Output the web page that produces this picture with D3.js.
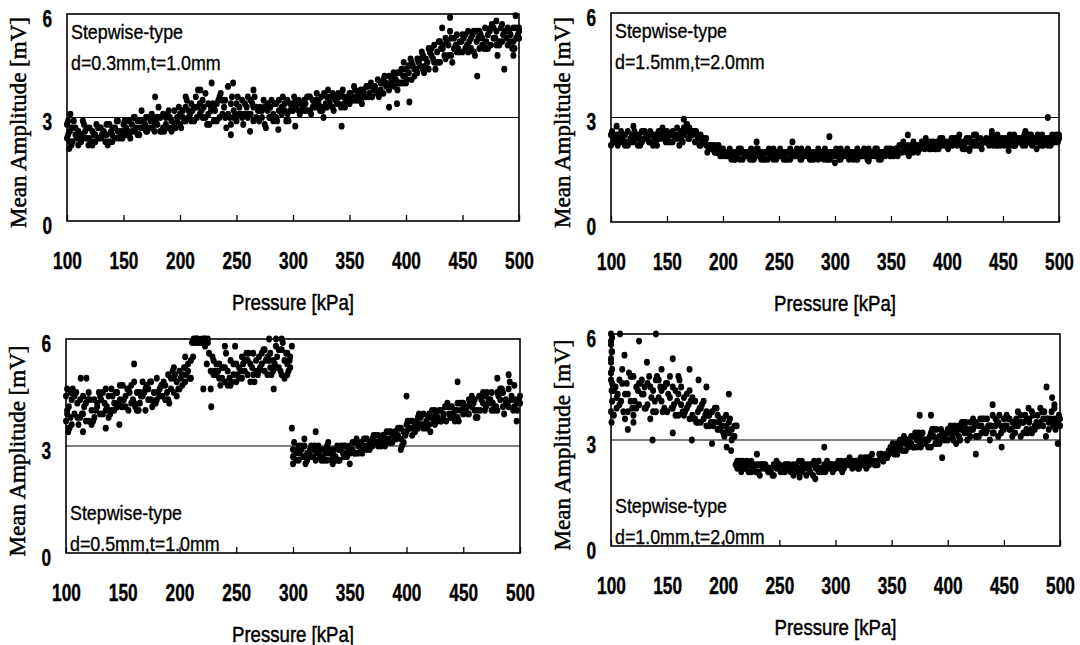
<!DOCTYPE html>
<html>
<head>
<meta charset="utf-8">
<script src="https://cdn.jsdelivr.net/npm/d3@7"></script>
<style>
  body { margin: 0; background: #fff; }
</style>
</head>
<body>
<div id="chart"></div>
<script>
// pressure steps [kPa] for the four interleaved sweeps
const pressureA = [100,105,110,115,120,125,130,135,140,145,150,155,160,165,170,175,180,185,190,195,
  200,205,210,215,220,225,230,235,240,245,250,255,260,265,270,275,280,285,290,295,
  300,305,310,315,320,325,330,335,340,345,350,355,360,365,370,375,380,385,390,395,
  400,405,410,415,420,425,430,435,440,445,450,455,460,465,470,475,480,485,490,495,500];
const pressureB = [102.5,107.5,112.5,117.5,122.5,127.5,132.5,137.5,142.5,147.5,152.5,157.5,162.5,167.5,172.5,177.5,182.5,187.5,192.5,197.5,
  202.5,207.5,212.5,217.5,222.5,227.5,232.5,237.5,242.5,247.5,252.5,257.5,262.5,267.5,272.5,277.5,282.5,287.5,292.5,297.5,
  302.5,307.5,312.5,317.5,322.5,327.5,332.5,337.5,342.5,347.5,352.5,357.5,362.5,367.5,372.5,377.5,382.5,387.5,392.5,397.5,
  402.5,407.5,412.5,417.5,422.5,427.5,432.5,437.5,442.5,447.5,452.5,457.5,462.5,467.5,472.5,477.5,482.5,487.5,492.5,497.5];
const pressureC = [101,106,111,116,121,126,131,136,141,146,151,156,161,166,171,176,181,186,191,196,
  201,206,211,216,221,226,231,236,241,246,251,256,261,266,271,276,281,286,291,296,
  301,306,311,316,321,326,331,336,341,346,351,356,361,366,371,376,381,386,391,396,
  401,406,411,416,421,426,431,436,441,446,451,456,461,466,471,476,481,486,491,496];
const pressureD = [104,109,114,119,124,129,134,139,144,149,154,159,164,169,174,179,184,189,194,199,
  204,209,214,219,224,229,234,239,244,249,254,259,264,269,274,279,284,289,294,299,
  304,309,314,319,324,329,334,339,344,349,354,359,364,369,374,379,384,389,394,399,
  404,409,414,419,424,429,434,439,444,449,454,459,464,469,474,479,484,489,494,499];

const xTicks = [100,150,200,250,300,350,400,450,500];
const yTicks = [0,3,6];

// d=0.3mm, t=1.0mm  (mean amplitude, mV)
const p1A1 = [2.8,2.3,2.6,2.4,2.7,2.5,2.4,2.8,2.5,2.9, 2.6,2.5,3.0,2.7,2.6,3.1,2.8,2.7,3.2,2.8,
  3.1,2.9,3.4,3.0,3.5,3.1,2.9,3.6,3.0,3.4, 2.9,3.5,3.0,3.3,2.9,3.3,3.0,3.4,3.1,3.5,
  3.2,3.5,3.2,3.6,3.3,3.6,3.3,3.7,3.4,3.6, 3.4,3.8,3.5,3.9,3.6,4.1,3.7,4.2,3.9,4.3,
  4.0,4.6,4.3,4.8,4.4,5.1,4.6,5.3,4.8,5.4, 4.9,5.5,4.9,5.5,5.0,5.6,5.1,5.7,5.1,5.6, 5.3];
const p1A2 = [2.4,2.7,2.2,2.8,2.4,2.3,2.7,2.5,2.3,2.6, 2.8,2.9,2.6,2.9,3.0,2.7,3.0,3.1,2.7,3.2,
  2.8,3.3,2.9,3.3,3.0,3.4,3.3,3.0,3.5,2.8, 3.4,3.0,3.6,2.9,3.2,2.8,3.3,3.0,3.3,3.1,
  3.4,3.2,3.5,3.2,3.5,3.3,3.6,3.3,3.7,3.4, 3.7,3.5,3.8,3.6,3.9,3.7,4.1,3.8,4.2,4.0,
  4.4,4.1,4.7,4.4,5.0,4.6,5.2,4.7,5.3,4.9, 5.4,4.9,5.5,5.0,5.6,5.1,5.5,5.2,5.6,5.2, 5.6];
const p1B1 = [2.6,2.5,2.3,2.7,2.6,2.4,2.6,2.3,2.7,2.5, 2.7,2.8,2.5,2.9,2.7,2.8,2.6,3.0,2.9,3.0,
  3.0,3.2,3.3,3.1,3.7,3.2,3.4,3.1,3.9,3.2, 3.3,3.1,3.5,3.0,3.2,3.4,2.9,3.2,3.4,3.2,
  3.3,3.4,3.2,3.5,3.4,3.3,3.5,3.6,3.3,3.5, 3.6,3.5,3.7,3.7,3.9,3.8,4.0,4.0,3.8,4.2,
  4.3,4.4,4.5,4.7,4.8,4.9,5.0,5.1,5.0,5.2, 5.0,5.3,5.2,5.1,5.4,5.3,5.2,5.5,5.4,5.3];
const p1B2 = [2.3,2.7,2.5,2.4,2.2,2.7,2.5,2.8,2.4,2.6, 2.5,2.6,2.9,2.7,3.0,2.6,3.0,2.8,2.6,2.9,
  3.2,3.0,2.9,3.4,3.0,3.3,2.9,3.5,3.1,3.0, 3.1,3.4,3.1,3.3,3.0,3.2,3.1,3.5,3.2,3.4,
  3.5,3.2,3.6,3.3,3.5,3.7,3.4,3.5,3.7,3.6, 3.5,3.7,3.8,3.6,3.8,4.0,3.9,4.1,4.3,4.0,
  4.5,4.2,4.7,4.5,5.0,4.6,5.1,4.8,5.3,4.9, 5.4,5.0,5.5,5.3,5.0,5.6,5.1,5.5,5.2,5.6];
const p1C = [2.5,2.9,2.4,2.6,2.3,2.8,2.5,2.2,2.7,2.4, 2.9,2.4,2.7,3.2,2.6,2.9,3.3,2.6,3.0,2.7,
  2.7,3.5,3.2,3.8,3.3,2.8,3.2,3.7,2.7,3.6, 3.6,2.8,3.1,3.6,3.3,2.7,3.5,2.9,3.6,2.9,
  3.6,3.1,3.4,3.1,3.7,3.2,3.8,3.2,3.6,3.3, 3.7,3.6,3.4,3.9,3.8,3.6,4.2,3.9,4.1,4.4,
  4.1,4.5,4.6,4.3,4.9,4.4,5.0,5.2,4.6,5.0, 5.3,5.2,4.8,5.4,5.2,5.7,4.8,5.4,5.5,5.0];
const p1D = [2.7,2.4,2.9,2.2,2.5,2.7,2.3,2.6,2.9,2.4, 2.6,3.0,2.5,2.8,2.9,3.0,2.6,3.1,2.7,3.3,
  2.9,3.1,3.6,3.2,2.8,3.4,3.5,3.3,3.0,3.1, 3.1,3.3,3.4,3.2,3.5,3.0,3.4,3.2,2.9,3.3,
  3.4,3.3,3.6,3.4,3.2,3.4,3.6,3.4,3.8,3.5, 3.9,3.6,3.6,4.0,3.7,4.0,3.9,4.3,4.0,4.2,
  4.7,4.4,4.9,4.6,4.7,5.2,4.8,5.5,5.1,5.2, 5.1,5.4,5.3,5.0,5.5,5.3,5.6,5.3,5.0,5.4];
const p1Extra = [[101,2.9],[102,2.1],[103,3.1],[104,2.2],[178,3.6],[205,3.6],[218,3.8],[228,4.0],[247,4.0],
  [245,2.5],[265,3.8],[262,2.6],[287,2.65],[302,2.75],[343,2.75],[385,3.3],[392,3.4],[403,3.45],
  [398,4.6],[439,5.9],[432,5.6],[463,4.2],[480,5.8],[487,4.4],[497,5.95],[495,4.8],[500,5.5],[327,3.0]];

// d=1.5mm, t=2.0mm
const p2A1 = [2.5,2.3,2.4,2.6,2.3,2.5,2.4,2.6,2.3,2.5, 2.4,2.6,2.5,2.7,2.4,2.6,2.2,2.4,2.1,2.0,
  2.1,1.9,2.0,1.8,2.0,1.9,2.1,1.9,2.0,1.8, 2.0,1.9,2.1,1.9,1.8,2.0,1.9,2.1,1.8,2.0,
  1.9,2.1,1.9,2.0,1.8,2.0,2.1,1.9,2.0,1.9, 2.1,2.0,2.2,2.1,2.0,2.2,2.1,2.3,2.2,2.3,
  2.2,2.4,2.3,2.2,2.4,2.3,2.2,2.4,2.3,2.5, 2.3,2.4,2.2,2.4,2.3,2.5,2.3,2.4,2.2,2.4, 2.4];
const p2A2 = [2.2,2.5,2.3,2.2,2.5,2.4,2.6,2.3,2.5,2.4, 2.6,2.3,2.4,2.5,2.7,2.3,2.5,2.2,2.2,2.1,
  1.9,2.0,1.8,2.0,1.9,2.1,1.9,2.0,1.8,2.1, 1.9,2.0,1.8,2.0,2.1,1.9,2.0,1.8,2.0,1.9,
  2.0,1.8,2.0,1.9,2.1,1.9,1.8,2.0,1.9,2.0, 1.9,2.1,2.0,2.2,2.3,2.1,2.3,2.2,2.1,2.2,
  2.3,2.2,2.4,2.3,2.1,2.2,2.4,2.3,2.5,2.2, 2.4,2.2,2.5,2.3,2.2,2.4,2.3,2.5,2.3,2.3, 2.5];
const p2B1 = [2.4,2.3,2.5,2.3,2.4,2.6,2.4,2.5,2.4,2.6, 2.5,2.4,2.6,2.8,2.5,2.4,2.3,2.2,2.0,2.1,
  2.0,1.8,1.9,2.0,1.9,2.0,1.9,1.8,2.0,2.0, 1.9,2.0,1.9,2.0,1.9,1.9,2.0,2.0,1.9,1.9,
  2.0,1.9,2.0,2.0,1.9,2.0,1.9,2.1,2.0,2.0, 2.0,2.2,2.1,2.1,2.2,2.2,2.2,2.3,2.2,2.3,
  2.2,2.3,2.3,2.4,2.3,2.2,2.3,2.3,2.4,2.3, 2.3,2.4,2.3,2.4,2.3,2.4,2.4,2.3,2.4,2.4];
const p2B2 = [2.3,2.4,2.2,2.4,2.5,2.3,2.5,2.2,2.6,2.5, 2.3,2.5,2.4,2.6,2.6,2.5,2.4,2.1,2.2,1.9,
  1.9,2.0,1.9,1.8,2.0,1.8,2.0,2.0,1.9,1.8, 2.0,1.8,2.0,1.9,2.0,1.8,1.9,1.9,1.8,2.0,
  1.9,2.0,1.8,1.9,2.0,1.9,2.0,1.9,1.9,2.1, 1.9,2.0,2.1,2.0,2.1,2.3,2.2,2.2,2.1,2.2,
  2.2,2.4,2.2,2.3,2.2,2.4,2.3,2.2,2.3,2.2, 2.4,2.3,2.4,2.2,2.5,2.3,2.3,2.4,2.2,2.5];
const p2C = [2.6,2.2,2.5,2.3,2.6,2.2,2.4,2.5,2.2,2.7, 2.3,2.5,2.2,2.6,2.5,2.6,2.3,2.0,2.1,2.2,
  2.0,2.1,1.8,2.1,1.9,1.8,2.1,1.8,2.1,1.9, 2.1,1.8,1.9,2.1,1.9,2.1,1.8,1.9,2.1,1.8,
  2.1,1.9,2.1,1.8,2.0,2.1,1.9,2.1,1.8,2.1, 2.0,1.9,2.3,1.9,2.2,2.1,2.4,2.1,2.3,2.4,
  2.1,2.3,2.5,2.1,2.3,2.5,2.1,2.3,2.2,2.4, 2.2,2.5,2.2,2.3,2.4,2.2,2.5,2.2,2.4,2.3];
const p2D = [2.4,2.6,2.3,2.5,2.2,2.6,2.3,2.4,2.6,2.3, 2.5,2.7,2.3,2.4,2.6,2.2,2.3,2.2,2.0,2.0,
  1.9,1.9,2.1,1.9,1.8,2.0,1.8,2.0,1.9,2.0, 1.8,2.0,1.9,1.8,2.0,1.8,2.0,1.9,1.8,2.0,
  1.8,1.9,2.0,1.8,1.9,1.8,2.0,1.8,2.0,1.9, 2.1,2.2,2.0,2.2,2.0,2.3,2.1,2.1,2.4,2.2,
  2.4,2.2,2.1,2.3,2.5,2.2,2.3,2.4,2.2,2.4, 2.3,2.2,2.4,2.5,2.3,2.4,2.2,2.4,2.5,2.3];
const p2Extra = [[165,2.95],[168,2.8],[120,2.75],[105,2.75],[295,2.45],[262,2.3],[490,3.0],[440,2.6],
  [470,2.6],[480,2.1],[455,2.05],[420,2.05],[330,1.75],[300,1.7],[230,2.3],[365,2.5]];

// d=0.5mm, t=1.0mm
const p3A1 = [4.4,3.6,4.2,3.9,4.5,3.8,4.4,4.0,4.6,4.1, 4.7,4.0,4.8,4.2,4.6,4.3,4.9,4.4,5.0,4.5,
  5.1,4.8,5.4,6.0,5.9,6.0,5.0,5.3,4.8,5.4, 4.8,5.5,5.0,5.6,5.1,5.7,5.2,5.8,5.0,5.3,
  2.9,2.6,3.0,2.7,2.9,2.6,3.0,2.7,2.9,2.7, 3.0,2.8,3.1,2.9,3.2,3.0,3.3,3.1,3.4,3.2,
  3.6,3.3,3.8,3.5,3.9,3.6,4.0,3.7,4.1,3.8, 4.2,3.9,4.3,4.0,4.4,4.0,4.5,4.1,4.6,4.1, 4.4];
const p3A2 = [3.7,4.3,3.8,4.4,3.7,4.3,3.9,4.6,4.0,4.5, 4.1,4.6,4.2,4.5,4.0,4.8,4.3,4.7,4.3,4.9,
  4.6,5.2,4.9,5.9,6.0,5.9,5.4,4.9,5.2,4.7, 5.3,4.9,5.4,5.0,5.5,5.1,5.6,5.2,5.7,5.0,
  2.7,3.0,2.7,2.9,2.6,2.9,2.6,2.8,2.6,3.0, 2.8,3.1,2.9,3.2,3.0,3.3,3.1,3.4,3.2,3.5,
  3.4,3.7,3.5,3.9,3.6,4.0,3.7,4.1,3.8,4.2, 3.9,4.3,4.0,4.4,4.1,4.5,4.0,4.5,4.1,4.7, 4.2];
const p3B1 = [4.1,3.9,4.3,3.7,4.0,4.2,3.9,4.4,4.2,4.3, 4.4,4.2,4.5,4.4,4.6,4.5,4.4,4.7,4.6,4.8,
  5.0,5.1,6.0,5.95,5.8,5.1,5.0,4.9,5.1,5.0, 5.2,5.1,5.3,5.4,5.3,5.5,5.4,5.2,5.4,5.2,
  2.8,2.9,2.8,2.7,2.8,2.9,2.8,2.7,2.9,2.8, 2.9,3.0,3.0,3.1,3.1,3.2,3.2,3.3,3.3,3.4,
  3.5,3.6,3.6,3.7,3.8,3.8,3.9,3.9,4.0,4.0, 4.1,4.1,4.0,4.2,4.2,4.1,4.3,4.2,4.3,4.2];
const p3B2 = [3.5,4.4,3.8,4.2,3.6,4.1,4.5,3.8,4.0,4.7, 4.1,4.7,4.0,4.8,4.3,4.2,4.6,4.3,4.9,4.4,
  4.7,5.3,5.9,5.9,6.0,4.6,5.3,5.2,4.7,5.3, 4.9,5.4,4.8,5.1,5.6,5.0,5.1,5.7,4.9,5.5,
  2.6,3.0,2.6,2.9,3.0,2.6,2.9,2.6,3.0,2.7, 3.1,2.8,3.2,2.9,3.3,3.0,3.4,3.1,3.5,3.1,
  3.7,3.4,3.8,3.5,4.0,3.7,3.8,4.1,3.7,4.2, 4.0,4.4,3.8,4.5,4.3,4.0,4.6,4.3,4.4,4.0];
const p3C = [4.0,4.6,3.6,4.1,4.3,4.0,4.3,4.1,4.4,4.2, 4.3,4.5,4.1,4.4,4.7,4.1,4.5,4.8,4.2,5.0,
  4.9,5.0,5.9,6.0,4.6,5.6,5.1,4.7,5.6,4.8, 5.0,5.3,5.6,4.8,5.2,5.4,5.0,5.5,5.9,5.1,
  3.1,2.8,2.5,3.0,2.8,2.7,3.1,2.9,2.6,3.0, 2.9,3.2,2.8,3.0,3.3,3.1,3.0,3.4,3.2,3.0,
  3.7,3.5,3.9,3.6,3.4,3.9,3.7,4.2,3.9,3.7, 4.1,4.2,3.8,4.3,4.5,4.2,4.4,3.9,4.8,4.3];
const p3D = [3.8,4.5,3.9,4.3,3.7,4.5,4.2,3.9,4.5,4.1, 4.6,4.3,4.0,4.5,4.8,4.2,4.7,4.5,5.1,4.6,
  5.2,4.9,6.0,5.9,5.3,5.5,5.1,5.2,4.9,5.8, 5.1,5.6,5.2,5.0,5.7,5.4,5.3,5.1,5.6,5.8,
  2.9,2.7,2.8,3.0,2.7,2.8,2.6,3.0,2.8,2.9, 2.8,3.0,3.2,3.0,3.1,3.3,3.2,3.3,3.5,3.3,
  3.5,3.7,3.6,3.8,3.7,4.0,4.1,3.8,4.0,4.2, 3.9,4.2,4.4,4.0,4.3,4.1,4.6,4.2,4.0,4.3];
const p3Extra = [[228,4.1],[113,4.9],[118,4.9],[160,5.3],[212,5.5],[218,5.9],[222,6.0],[240,5.8],
  [285,6.0],[279,6.0],[290,6.0],[283,4.6],[295,5.6],[297,5.4],[299,3.5],[300,2.5],[320,3.4],
  [400,4.4],[445,4.8],[480,4.9],[490,5.0],[497,3.7],[395,2.9],[310,3.2],[350,2.5],[335,2.5],
  [102,3.4],[101,4.6],[103,3.5],[104,4.5],[101,3.9],[115,3.4],[135,3.5],[147,3.6],[195,5.2],[205,5.5]];

// d=1.0mm, t=2.0mm
const p4A1 = [5.8,4.2,4.6,3.8,4.8,4.0,4.5,3.6,4.7,4.1, 4.6,3.9,4.3,3.7,4.4,3.6,3.9,3.4,3.8,3.3,
  3.6,3.2,3.4,2.4,2.2,2.4,2.1,2.3,2.2,2.0, 2.3,2.1,2.2,2.3,2.1,2.3,2.0,2.4,2.2,2.3,
  2.2,2.4,2.3,2.2,2.4,2.3,2.5,2.3,2.5,2.6, 2.7,2.9,2.7,3.0,2.8,3.1,2.9,3.2,2.9,3.2,
  3.0,3.3,3.1,3.4,3.1,3.5,3.2,3.6,3.2,3.5, 3.3,3.6,3.2,3.7,3.3,3.8,3.4,3.6,3.5,3.9, 3.6];
const p4A2 = [4.9,3.9,5.0,4.3,3.7,4.6,3.9,4.5,3.8,4.4, 3.8,4.5,3.7,4.2,3.6,4.1,3.5,3.8,3.5,3.7,
  3.2,3.5,3.1,2.3,2.3,2.1,2.3,2.2,2.1,2.3, 2.2,2.3,2.1,2.2,2.4,2.2,2.3,2.1,2.3,2.2,
  2.3,2.2,2.3,2.4,2.2,2.4,2.3,2.4,2.6,2.5, 2.8,2.6,3.0,2.8,3.1,2.9,3.0,2.8,3.3,3.0,
  3.3,3.0,3.4,3.2,3.5,3.1,3.4,3.3,3.7,3.1, 3.6,3.3,3.5,3.1,3.6,3.2,3.7,3.4,3.3,3.6, 3.4];
const p4B1 = [4.4,4.0,4.3,4.1,4.5,4.3,4.6,4.4,4.2,4.5, 4.2,4.4,4.0,3.9,3.7,3.8,3.6,3.7,3.5,3.6,
  3.4,3.3,2.4,2.2,2.3,2.2,2.3,2.3,2.2,2.2, 2.2,2.2,2.3,2.2,2.2,2.3,2.2,2.2,2.3,2.3,
  2.3,2.3,2.3,2.4,2.3,2.4,2.4,2.4,2.5,2.6, 2.8,2.8,2.9,2.9,3.0,3.0,3.0,3.1,3.1,3.1,
  3.2,3.2,3.3,3.3,3.3,3.4,3.3,3.4,3.4,3.4, 3.4,3.5,3.4,3.5,3.5,3.4,3.5,3.6,3.5,3.5];
const p4B2 = [3.7,4.7,3.6,4.8,3.9,4.7,4.0,3.8,4.7,3.9, 4.8,3.7,4.5,4.3,4.2,3.5,4.1,3.4,3.9,3.3,
  3.7,3.0,2.2,2.4,2.1,2.3,2.0,2.2,2.1,2.4, 2.1,2.3,2.0,2.4,2.3,2.1,2.3,2.1,2.4,2.1,
  2.4,2.2,2.5,2.3,2.5,2.2,2.6,2.3,2.4,2.7, 2.6,3.0,2.7,3.1,2.8,3.2,2.8,3.3,2.9,3.0,
  3.4,2.9,3.5,3.0,3.6,3.1,3.6,3.0,3.6,3.2, 3.7,3.1,3.8,3.2,3.6,3.3,3.9,3.1,3.8,3.5];
const p4C = [5.5,4.3,3.8,4.9,4.1,4.6,3.9,4.2,4.8,3.8, 4.3,4.0,4.7,3.8,4.1,3.5,4.0,3.7,3.4,3.5,
  3.1,3.6,2.3,2.1,2.4,2.2,2.1,2.3,2.2,2.3, 2.1,2.3,2.2,2.1,2.3,2.2,2.4,2.2,2.1,2.3,
  2.3,2.1,2.4,2.3,2.2,2.5,2.4,2.3,2.6,2.5, 2.9,2.7,3.1,2.9,3.2,2.8,3.0,3.3,3.0,3.1,
  3.2,3.4,3.0,3.5,3.3,3.1,3.6,3.4,3.2,3.7, 3.4,3.3,3.6,3.5,3.2,3.7,3.4,3.8,3.6,3.3];
const p4D = [4.5,4.1,4.6,3.9,4.4,4.3,4.8,4.1,4.5,4.6, 3.9,4.1,3.8,4.0,3.6,3.9,3.7,3.5,3.9,3.4,
  3.3,3.1,2.3,2.2,2.3,2.1,2.3,2.2,2.0,2.3, 2.2,2.3,2.1,2.2,2.0,2.3,2.2,2.1,2.3,2.2,
  2.2,2.4,2.3,2.4,2.3,2.5,2.4,2.6,2.5,2.8, 2.7,2.9,3.0,2.8,3.2,3.0,3.1,2.9,3.3,3.2,
  3.1,3.3,3.5,3.2,3.4,3.6,3.2,3.4,3.5,3.3, 3.6,3.4,3.5,3.7,3.3,3.5,3.8,3.6,3.4,3.7];
const p4Extra = [[100,6.0],[100,5.7],[100.5,5.5],[100,5.2],[101,5.0],[100,4.7],[100.5,4.4],[101,4.1],
  [100,3.8],[100.5,3.5],[101,5.9],[100,5.3],[101,4.6],[100,4.9],[108,6.0],[140,6.0],[125,5.8],
  [112,5.4],[155,5.3],[132,5.2],[145,5.0],[170,5.0],[178,4.7],[160,4.8],[185,4.5],[205,4.3],
  [115,3.3],[120,3.5],[137,3.0],[155,3.2],[172,3.0],[190,2.9],[203,2.8],[207,2.7],[212,3.4],
  [375,3.7],[385,3.7],[395,2.5],[425,2.6],[448,2.8],[488,4.5],[493,4.2],[498,2.9],[495,4.0],
  [472,3.9],[440,4.0],[282,1.9],[290,2.8],[268,1.95],[230,2.6]];

const panelLabels = [
  ["Stepwise-type", "d=0.3mm,t=1.0mm"],
  ["Stepwise-type", "d=1.5mm,t=2.0mm"],
  ["Stepwise-type", "d=0.5mm,t=1.0mm"],
  ["Stepwise-type", "d=1.0mm,t=2.0mm"]
];

const width = 1080, height = 645;
const sansFont = "'Liberation Sans', Arial, sans-serif";
const serifFont = "'Liberation Serif', 'Times New Roman', serif";
const squeeze = 0.72;     // condensed look of the tick numbers
const squeezeText = 0.85; // condensed look of captions / x title

const svg = d3.select("#chart").append("svg")
  .attr("width", width)
  .attr("height", height)
  .style("background", "#fff");

const panels = [
  {box: {left: 67, right: 519, top: 14, bottom: 221}, sweeps: [[pressureA, p1A1], [pressureA, p1A2], [pressureB, p1B1], [pressureB, p1B2], [pressureC, p1C], [pressureD, p1D]], extra: p1Extra, label: panelLabels[0], labelAt: "top"},
  {box: {left: 611, right: 1059, top: 13, bottom: 222}, sweeps: [[pressureA, p2A1], [pressureA, p2A2], [pressureB, p2B1], [pressureB, p2B2], [pressureC, p2C], [pressureD, p2D]], extra: p2Extra, label: panelLabels[1], labelAt: "top"},
  {box: {left: 66, right: 520, top: 339, bottom: 553}, sweeps: [[pressureA, p3A1], [pressureA, p3A2], [pressureB, p3B1], [pressureB, p3B2], [pressureC, p3C], [pressureD, p3D]], extra: p3Extra, label: panelLabels[2], labelAt: "bottom"},
  {box: {left: 611, right: 1060, top: 334, bottom: 546}, sweeps: [[pressureA, p4A1], [pressureA, p4A2], [pressureB, p4B1], [pressureB, p4B2], [pressureC, p4C], [pressureD, p4D]], extra: p4Extra, label: panelLabels[3], labelAt: "bottom"}
];

panels.forEach(p => drawPanel(p));

function drawPanel(p) {
  const b = p.box;
  const x = d3.scaleLinear().domain([100, 500]).range([b.left, b.right]);
  const y = d3.scaleLinear().domain([0, 6]).range([b.bottom, b.top]);
  const g = svg.append("g");

  // 3 mV reference line
  g.append("line")
    .attr("x1", x(100)).attr("x2", x(500))
    .attr("y1", y(3)).attr("y2", y(3))
    .attr("stroke", "#000").attr("stroke-width", 1.2);

  // points
  var pts = [];
  p.sweeps.forEach(s => s[1].forEach((v, i) => pts.push([s[0][i], v])));
  p.extra.forEach(d => pts.push(d));

  g.selectAll("ellipse.pt")
    .data(pts)
    .join("ellipse")
    .attr("class", "pt")
    .attr("cx", d => x(d[0]))
    .attr("cy", d => y(d[1]))
    .attr("rx", 3.0)
    .attr("ry", 3.4)
    .attr("fill", "#000");

  // frame
  g.append("rect")
    .attr("x", b.left).attr("y", b.top)
    .attr("width", b.right - b.left).attr("height", b.bottom - b.top)
    .attr("fill", "none").attr("stroke", "#000").attr("stroke-width", 1.6);

  // x axis: inward ticks
  const xAxis = d3.axisBottom(x).tickValues(xTicks).tickFormat(d3.format("d"))
    .tickSize(-6).tickPadding(31).tickSizeOuter(0);
  const gx = g.append("g").attr("transform", `translate(0,${b.bottom})`).call(xAxis);
  gx.select(".domain").remove();
  gx.selectAll(".tick line").attr("stroke", "#000").attr("stroke-width", 1.3);
  gx.selectAll(".tick text")
    .attr("font-family", sansFont).attr("font-weight", "bold").attr("font-size", 24)
    .attr("transform", `scale(${squeeze},1)`)
    .attr("stroke", "#000").attr("stroke-width", 0.4)
    .attr("fill", "#000");

  // y axis: labels only
  const yAxis = d3.axisLeft(y).tickValues(yTicks).tickFormat(d3.format("d"))
    .tickSize(0).tickPadding(15 / squeeze);
  const gy = g.append("g").attr("transform", `translate(${b.left},0)`).call(yAxis);
  gy.select(".domain").remove();
  gy.selectAll(".tick text")
    .attr("font-family", sansFont).attr("font-weight", "bold").attr("font-size", 24)
    .attr("transform", `scale(${squeeze},1)`)
    .attr("stroke", "#000").attr("stroke-width", 0.4)
    .attr("dy", "0.52em").attr("fill", "#000");

  // axis titles
  g.append("text")
    .attr("transform", `translate(${(b.left + b.right) / 2},${b.bottom + 89}) scale(${squeezeText - 0.04},1)`)
    .attr("text-anchor", "middle")
    .attr("font-family", sansFont).attr("font-size", 23)
    .attr("stroke", "#000").attr("stroke-width", 0.5)
    .text("Pressure [kPa]");

  g.append("text")
    .attr("transform", `translate(${b.left - 41},${(b.top + b.bottom) / 2 + 5}) rotate(-90)`)
    .attr("text-anchor", "middle")
    .attr("font-family", serifFont).attr("font-size", 23)
    .attr("stroke", "#000").attr("stroke-width", 0.5)
    .text("Mean Amplitude [mV]");

  // panel caption
  const y0 = p.labelAt === "top" ? b.top + 25 : b.bottom - 33;
  p.label.forEach((t, i) => {
    g.append("text")
      .attr("transform", `translate(${b.left + 4},${y0 + i * 31}) scale(${squeezeText},1)`)
      .attr("font-family", sansFont).attr("font-size", 21)
      .attr("stroke", "#000").attr("stroke-width", 0.35)
      .text(t);
  });
}
</script>
</body>
</html>
